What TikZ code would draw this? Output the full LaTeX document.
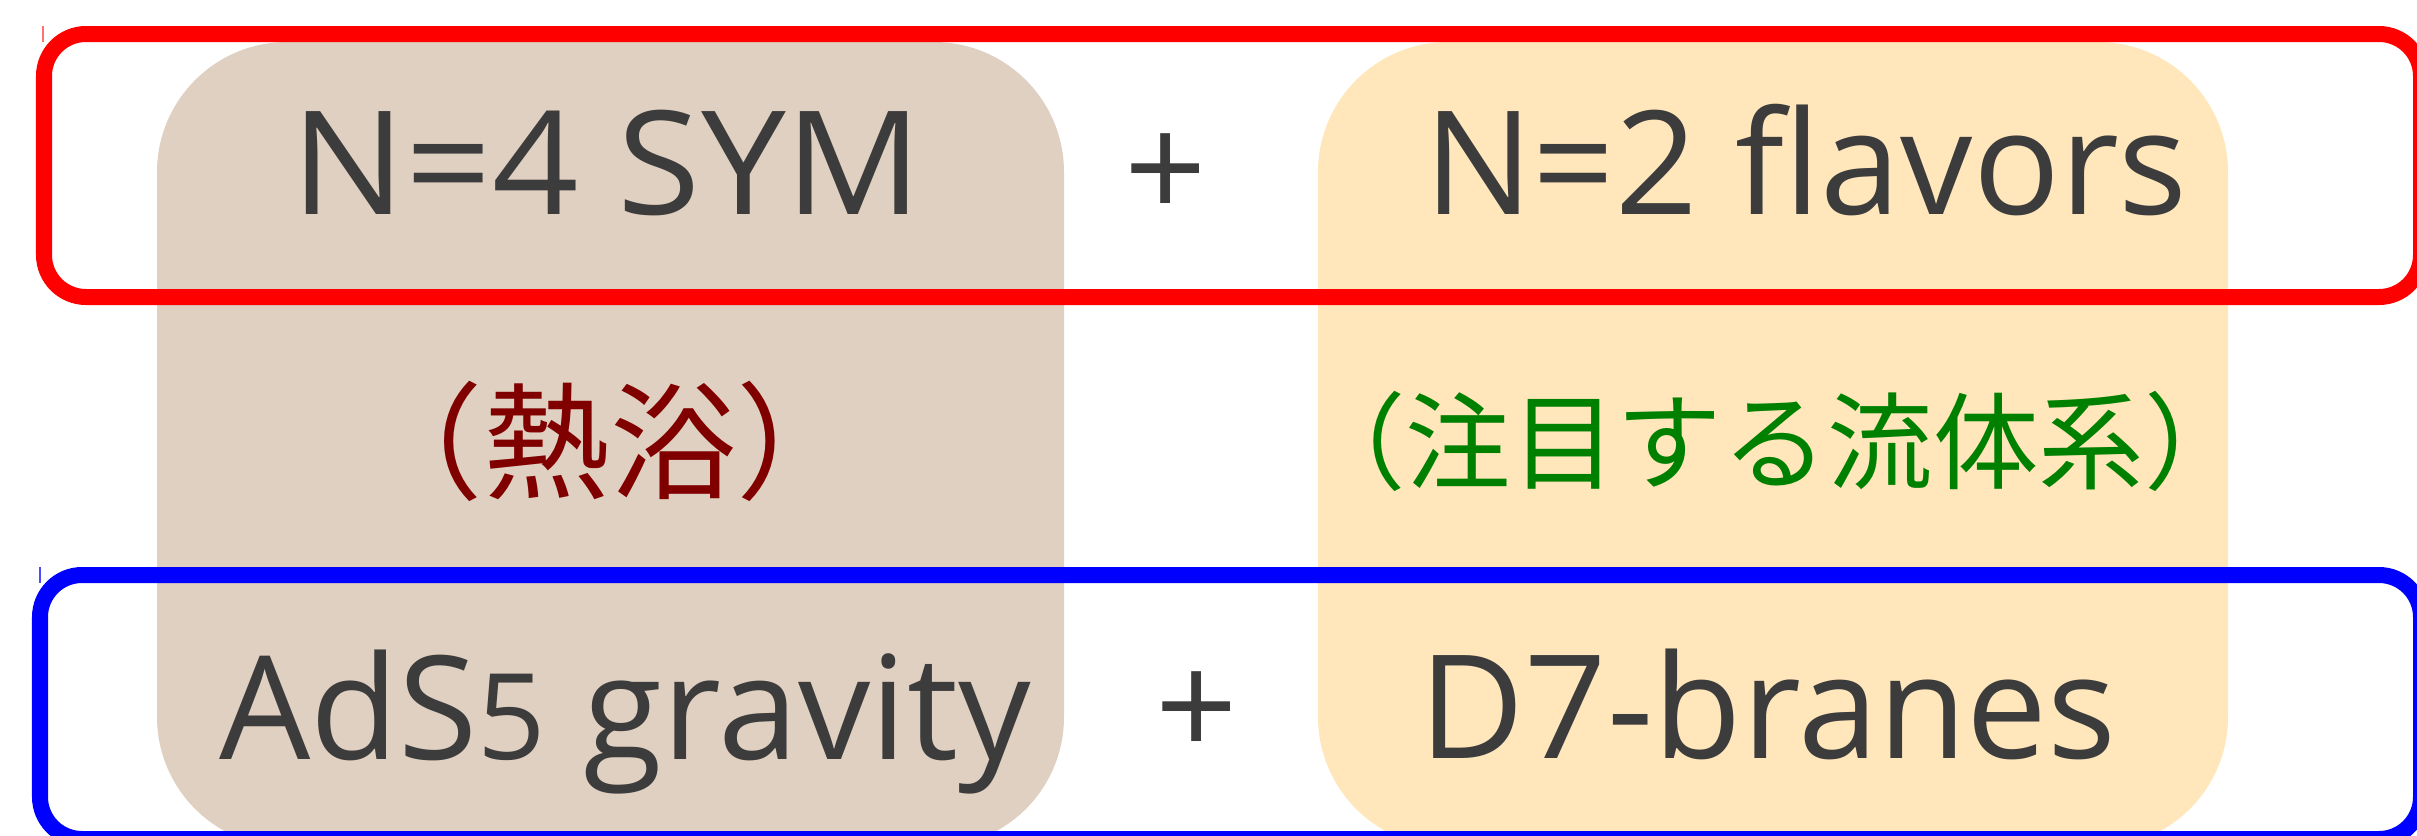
\documentclass[tikz,border=0pt]{standalone}
\usepackage{fontspec}
\setmainfont{Open Sans}
\newfontfamily\jpfont{Noto Sans CJK JP}
\definecolor{ink}{HTML}{3C3C3C}
\definecolor{bathfill}{HTML}{E0D0C1}
\definecolor{flavorfill}{HTML}{FFE7BB}
\definecolor{bathred}{HTML}{800000}
\definecolor{fluidgreen}{HTML}{008000}
\tikzset{
  panel/.style={rounded corners=13mm},
  frame/.style={line width=4.55pt, rounded corners=4.2mm},
  tick/.style={line width=0.6pt},
  label/.style={inner sep=0pt, text=ink, font=\fontsize{41pt}{41pt}\selectfont},
  note/.style={inner sep=0pt},
}
\begin{document}
\begin{tikzpicture}[x=0.01cm,y=-0.01cm]
\useasboundingbox (0,0) rectangle (2417,836);
\clip (0,0) rectangle (2417,836);
% column panels
\fill[bathfill, panel] (157,42) rectangle (1064,847);
\fill[flavorfill, panel] (1318,42) rectangle (2228,847);
% field theory frame and gravity frame
\draw[red, frame] (44,34) rectangle (2421,297);
\draw[blue, frame] (40,575) rectangle (2421,839);
\draw[red!55, tick] (43,26) -- (43,42);
\draw[blue!70, tick] (40,567) -- (40,583);
% field theory side
\node[label, anchor=base] (sym) at (607,214) {\scalebox{1.05}[1]{N=4 SYM}};
\node[label] (plustop) at (1166,177) {+};
\node[label, anchor=base] (flavors) at (1806,214) {N=2 flavors};
% roles
\node[note, text=bathred, font=\jpfont\fontsize{36pt}{36pt}\selectfont] (bath) at (610,441) {（熱浴）};
\node[note, text=fluidgreen, font=\jpfont\fontsize{30pt}{30pt}\selectfont] (fluid) at (1775,441) {（注目する流体系）};
% gravity side
\node[label, anchor=base] (ads) at (625,759) {AdS{\fontsize{34pt}{34pt}\selectfont 5} gravity};
\node[label] (plusbot) at (1197,715) {+};
\node[label, anchor=base] (branes) at (1768,758) {D7-branes};
\end{tikzpicture}
\end{document}
